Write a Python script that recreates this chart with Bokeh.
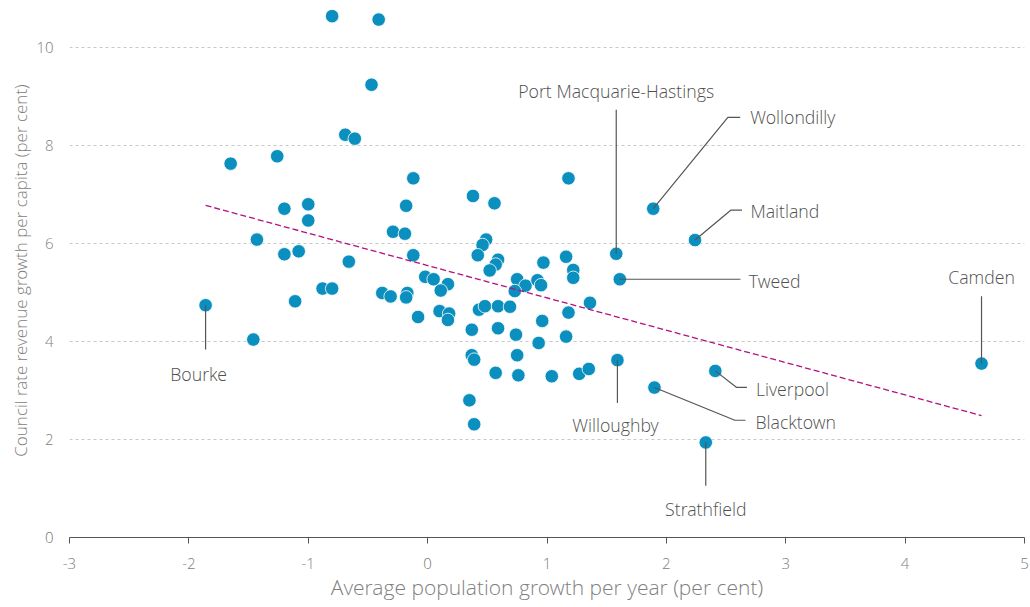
from bokeh.plotting import figure
from bokeh.models import Range1d, FixedTicker
from bokeh.embed import file_html
from bokeh.resources import INLINE
from bokeh.core.properties import value

# ---------------- data ----------------
council = ["", "", "", "", "", "", "", "", "", "",
           "", "", "", "", "", "Wollondilly", "Maitland", "", "", "",
           "", "", "", "", "", "", "", "Port Macquarie-Hastings", "", "",
           "", "", "", "", "", "Tweed", "", "", "", "",
           "", "", "", "", "", "", "", "", "", "",
           "", "", "Bourke", "", "", "", "", "", "", "",
           "", "", "", "", "", "", "", "", "", "",
           "", "", "", "Willoughby", "", "", "", "", "", "Liverpool",
           "Blacktown", "Strathfield", "", "", "Camden"]
pop_growth = [-0.80, -0.41, -0.47, -0.69, -0.61, -1.65, -1.26, -0.12, 1.18, 0.38,
              0.56, -1.20, -1.00, -0.18, -1.00, 1.89, 2.24, -1.43, -0.29, -0.19,
              0.49, 0.46, 0.42, -0.12, -1.20, -1.08, 1.16, 1.58, 0.59, 0.57,
              0.52, 0.97, -0.66, 1.22, 1.22, 1.61, -0.02, 0.05, 0.17, 0.11,
              0.75, 0.82, 0.73, 0.92, 0.95, -0.88, -0.80, -0.38, -0.31, -0.17,
              -0.18, -1.11, -1.86, 1.36, -0.08, 0.10, 0.18, 0.17, 0.43, 0.48,
              0.59, 0.69, 0.96, 1.18, -1.46, 0.37, 0.59, 0.74, 0.93, 1.16,
              0.37, 0.39, 0.75, 1.59, 0.57, 0.76, 1.04, 1.27, 1.35, 2.41,
              1.90, 2.33, 0.35, 0.39, 4.64]
rate_growth = [10.64, 10.57, 9.24, 8.22, 8.14, 7.63, 7.78, 7.33, 7.33, 6.97,
               6.82, 6.71, 6.80, 6.77, 6.47, 6.71, 6.07, 6.08, 6.24, 6.20,
               6.08, 5.97, 5.76, 5.76, 5.78, 5.84, 5.73, 5.79, 5.67, 5.57,
               5.45, 5.61, 5.63, 5.46, 5.30, 5.27, 5.32, 5.27, 5.17, 5.04,
               5.27, 5.14, 5.03, 5.25, 5.15, 5.08, 5.08, 4.99, 4.92, 4.99,
               4.90, 4.82, 4.74, 4.79, 4.50, 4.62, 4.57, 4.44, 4.65, 4.72,
               4.72, 4.71, 4.42, 4.59, 4.04, 4.24, 4.27, 4.14, 3.97, 4.10,
               3.72, 3.63, 3.72, 3.62, 3.36, 3.31, 3.29, 3.34, 3.44, 3.40,
               3.06, 1.94, 2.80, 2.31, 3.55]
x_ticks = [-3, -2, -1, 0, 1, 2, 3, 4, 5]
y_ticks = [0, 2, 4, 6, 8, 10]
trend_slope = -0.66
trend_intercept = 5.55

x_title = "Average population growth per year (per cent)"
y_title = "Council rate revenue growth per capita (per cent)"

# ---------------- layout ----------------
W, H = 1030, 607
BL, BR, BT, BB = 69, 6, 3, 70
FW, FH = W - BL - BR, H - BT - BB
X0, X1 = -3, 5
Y0, Y1 = 0, FH / 49.0
UX = (X1 - X0) / FW
UY = (Y1 - Y0) / FH

# leader paths / label anchors as pixel offsets from the point (screen y down)
callouts = {
    "Port Macquarie-Hastings": dict(path=[(0, -144)], text=(0, -163), align="center"),
    "Wollondilly": dict(path=[(74.6, -91.3), (87, -91.3)], text=(97, -91.3), align="left"),
    "Maitland": dict(path=[(36, -30), (47, -30)], text=(55.4, -29), align="left"),
    "Tweed": dict(path=[(120.6, 0)], text=(129, 1.5), align="left"),
    "Camden": dict(path=[(0, -67.3)], text=(0, -87), align="center"),
    "Liverpool": dict(path=[(21, 16.4), (31.6, 16.4)], text=(40.6, 18), align="left"),
    "Blacktown": dict(path=[(80.4, 32.7), (91, 32.7)], text=(101, 34), align="left"),
    "Strathfield": dict(path=[(0, 43.3)], text=(0, 66.6), align="center"),
    "Willoughby": dict(path=[(0, 42.8)], text=(-2, 65.2), align="center"),
    "Bourke": dict(path=[(0, 44.3)], text=(-7, 68.3), align="center"),
}

FONT = "Open Sans Light"
DOT = "#0A8FBE"
TREND = "#B0127F"
LABEL_GREY = "#808080"
TEXT_GREY = "#505050"

p = figure(width=W, height=H, output_backend="svg",
           toolbar_location=None, x_range=Range1d(X0, X1), y_range=Range1d(Y0, Y1),
           min_border_left=BL, min_border_right=BR, min_border_top=BT,
           min_border_bottom=BB)
p.outline_line_color = None
p.background_fill_color = "white"

# grid
p.xgrid.visible = False
p.ygrid.ticker = FixedTicker(ticks=y_ticks)
p.ygrid.grid_line_color = "#c8c8c8"
p.ygrid.grid_line_dash = "3 3"
p.ygrid.grid_line_width = 1

# axes
p.xaxis.ticker = FixedTicker(ticks=x_ticks)
p.xaxis.major_label_overrides = {t: str(t) for t in x_ticks}
p.xaxis.axis_line_color = "#555555"
p.xaxis.major_tick_line_color = "#555555"
p.xaxis.major_tick_out = 6
p.xaxis.major_tick_in = 0
p.xaxis.minor_tick_line_color = None
p.xaxis.major_label_standoff = 14
p.xaxis.axis_label = x_title
p.xaxis.axis_label_standoff = 1

p.yaxis.ticker = FixedTicker(ticks=y_ticks)
p.yaxis.major_label_overrides = {t: str(t) for t in y_ticks}
p.yaxis.axis_line_color = None
p.yaxis.major_tick_line_color = None
p.yaxis.minor_tick_line_color = None
p.yaxis.major_tick_out = 0
p.yaxis.major_label_standoff = 16
p.yaxis.axis_label = y_title
p.yaxis.axis_label_standoff = 1

for ax in (p.xaxis[0], p.yaxis[0]):
    ax.major_label_text_font = FONT
    ax.major_label_text_font_size = "15px"
    ax.major_label_text_color = LABEL_GREY
    ax.axis_label_text_font = FONT
    ax.axis_label_text_font_style = "normal"
    ax.axis_label_text_color = LABEL_GREY
p.xaxis.axis_label_text_font_size = "21px"
p.yaxis.axis_label_text_font_size = "17px"

# points
p.scatter(pop_growth, rate_growth, size=13.5, fill_color=DOT, line_color="white",
          line_width=0.8)

# trend line
tx = [min(pop_growth), max(pop_growth)]
ty = [trend_intercept + trend_slope * v for v in tx]
p.line(tx, ty, line_color=TREND, line_width=1.3, line_dash="6 3")

# callouts
xs, ys = [], []
texts = {"left": ([], [], []), "center": ([], [], [])}
for name, x, y in zip(council, pop_growth, rate_growth):
    if not name:
        continue
    c = callouts[name]
    lx = [x] + [x + dx * UX for dx, dy in c["path"]]
    ly = [y] + [y - dy * UY for dx, dy in c["path"]]
    xs.append(lx)
    ys.append(ly)
    tdx, tdy = c["text"]
    t = texts[c["align"]]
    t[0].append(x + tdx * UX)
    t[1].append(y - tdy * UY)
    t[2].append(name)
p.multi_line(xs, ys, line_color="#555555", line_width=1.2)
for align, (txx, tyy, tt) in texts.items():
    p.text(txx, tyy, text=tt, text_align=align, text_baseline="middle",
           text_font=value(FONT), text_font_size="17.7px", text_color=TEXT_GREY)

open("out.html", "w").write(file_html(p, INLINE))
